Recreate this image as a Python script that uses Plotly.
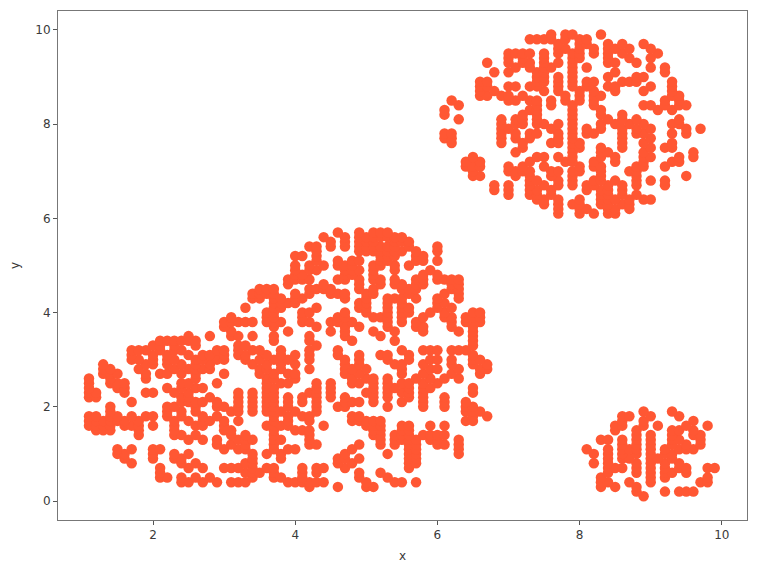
import plotly.graph_objects as go

# Each cluster: row heights, and the x values found on each row
small_y = [0.1, 0.2, 0.3, 0.4, 0.5, 0.6, 0.7, 0.8, 0.9, 1.0, 1.1, 1.2, 1.3, 1.4, 1.5, 1.6, 1.7, 1.8, 1.9]
small_x = [
    [8.9],
    [8.8, 9.2, 9.4, 9.5, 9.6],
    [8.3, 8.5, 8.8],
    [8.3, 8.4, 8.7, 9.0, 9.7, 9.8],
    [8.3, 9.0, 9.2, 9.8],
    [8.4, 8.8, 9.0, 9.2, 9.3, 9.5],
    [8.4, 8.5, 8.6, 8.8, 9.0, 9.2, 9.4, 9.5, 9.8, 9.9],
    [8.2, 8.4, 8.8, 9.0, 9.2, 9.4],
    [8.4, 8.6, 8.7, 9.0, 9.1, 9.3],
    [8.2, 8.4, 8.6, 8.8, 9.0, 9.2, 9.3],
    [8.1, 8.4, 8.6, 8.7, 8.8, 9.0, 9.2, 9.4, 9.5, 9.6],
    [8.6, 8.8, 9.0, 9.3, 9.5, 9.7],
    [8.3, 8.4, 8.6, 8.8, 9.0, 9.3, 9.4, 9.7],
    [8.8, 9.0, 9.3, 9.6, 9.7],
    [8.5, 8.8, 9.3, 9.4, 9.6],
    [8.5, 8.6, 8.9, 9.1, 9.5, 9.8],
    [8.6, 8.9, 9.6],
    [8.6, 8.7, 9.0, 9.4],
    [8.9, 9.3],
]

top_y = [6.1, 6.2, 6.3, 6.4, 6.5, 6.6, 6.7, 6.8, 6.9, 7.0, 7.1, 7.2, 7.3, 7.4, 7.5, 7.6, 7.7, 7.8, 7.9,
         8.0, 8.1, 8.2, 8.3, 8.4, 8.5, 8.6, 8.7, 8.8, 8.9, 9.0, 9.1, 9.2, 9.3, 9.4, 9.5, 9.6, 9.7, 9.8, 9.9]
top_x = [
    [7.7, 8.0, 8.2, 8.4, 8.5],
    [7.7, 8.0, 8.1, 8.4, 8.5, 8.7],
    [7.5, 7.7, 7.9, 8.0, 8.3, 8.4, 8.6, 8.7],
    [7.4, 7.5, 7.7, 8.0, 8.3, 8.4, 8.5, 8.7, 8.9, 9.0],
    [7.0, 7.3, 7.4, 7.6, 8.3, 8.4, 8.6, 8.8],
    [6.8, 7.0, 7.3, 7.4, 7.6, 8.1, 8.3, 8.4, 8.6],
    [6.8, 7.0, 7.3, 7.5, 7.7, 7.9, 8.1, 8.2, 8.4, 8.6, 8.8, 9.2],
    [7.3, 7.4, 7.7, 7.9, 8.2, 8.3, 8.5, 8.8, 9.0, 9.2],
    [6.5, 6.6, 7.1, 7.3, 7.6, 7.9, 8.3, 8.8, 9.5],
    [6.5, 7.0, 7.1, 7.2, 7.3, 7.6, 7.7, 7.9, 8.0, 8.3, 8.7, 8.8],
    [6.4, 6.5, 6.6, 7.0, 7.2, 7.5, 8.0, 8.2, 8.3, 8.8, 8.9, 9.2],
    [6.4, 6.6, 7.3, 7.8, 7.9, 8.2, 8.5, 8.9, 9.3, 9.4],
    [6.5, 7.4, 7.5, 7.7, 7.9, 8.3, 8.5, 8.9, 9.0, 9.4, 9.6],
    [7.1, 7.9, 8.3, 8.4, 8.9, 9.6],
    [7.2, 7.9, 8.0, 8.3, 8.6, 9.0, 9.2, 9.3],
    [6.2, 6.9, 7.2, 7.6, 7.7, 7.9, 8.0, 8.6, 8.9, 9.3],
    [6.1, 6.2, 6.9, 7.1, 7.3, 7.7, 7.9, 8.6, 9.0],
    [6.1, 6.2, 6.9, 7.1, 7.3, 7.4, 7.7, 7.9, 8.1, 8.2, 8.6, 8.8, 8.9, 9.3, 9.5],
    [6.9, 7.0, 7.6, 7.9, 8.1, 8.3, 8.6, 8.8, 9.0, 9.5, 9.7],
    [6.9, 7.1, 7.2, 7.4, 7.5, 7.7, 7.9, 8.3, 8.5, 8.7, 8.9, 9.3, 9.4],
    [6.3, 6.9, 7.1, 7.2, 7.4, 7.9, 8.4, 8.6, 8.8, 9.4],
    [6.1, 7.2, 7.4, 7.9, 8.3, 8.6],
    [6.1, 7.3, 7.4, 7.9, 8.3, 9.1, 9.3],
    [6.3, 7.4, 7.6, 7.9, 8.2, 8.9, 9.0, 9.2, 9.4, 9.5],
    [6.2, 7.0, 7.1, 7.3, 7.4, 7.6, 7.8, 8.0, 8.2, 9.2, 9.4],
    [6.6, 6.7, 6.9, 7.0, 7.2, 7.8, 8.0, 8.2, 8.3, 9.3, 9.4],
    [6.6, 6.8, 7.5, 7.7, 8.0, 8.2, 8.5, 8.9, 9.3],
    [6.6, 6.7, 7.0, 7.1, 7.3, 7.4, 7.7, 7.9, 8.1, 8.4, 8.5, 9.0, 9.3],
    [6.6, 6.7, 7.4, 7.5, 7.7, 7.9, 8.1, 8.2, 8.6, 8.7, 8.8, 9.3],
    [7.4, 7.5, 7.7, 7.9, 8.4, 8.8, 8.9],
    [6.8, 7.0, 7.4, 7.5, 7.9, 8.5, 9.2],
    [7.1, 7.3, 7.5, 7.6, 7.9, 8.1, 9.0, 9.2],
    [6.7, 7.0, 7.2, 7.3, 7.5, 7.7, 7.9, 8.4, 8.5, 8.8],
    [7.0, 7.2, 7.5, 7.9, 8.0, 8.4, 8.7, 9.0],
    [7.0, 7.1, 7.2, 7.3, 7.5, 7.7, 7.9, 8.0, 8.2, 8.4, 8.6, 9.1],
    [7.7, 7.8, 8.0, 8.2, 8.4, 8.5, 8.7, 9.0],
    [7.7, 8.0, 8.1, 8.4, 8.6, 8.9],
    [7.3, 7.4, 7.5, 7.6, 7.8, 8.0, 8.1],
    [7.6, 7.8, 7.9, 8.3],
]

main_y = [0.3, 0.4, 0.5, 0.6, 0.7, 0.8, 0.9, 1.0, 1.1, 1.2, 1.3, 1.4, 1.5, 1.6, 1.7, 1.8, 1.9, 2.0,
          2.1, 2.2, 2.3, 2.4, 2.5, 2.6, 2.7, 2.8, 2.9, 3.0, 3.1, 3.2, 3.3, 3.4, 3.5, 3.6, 3.7, 3.8,
          3.9, 4.0, 4.1, 4.2, 4.3, 4.4, 4.5, 4.6, 4.7, 4.8, 4.9, 5.0, 5.1, 5.2, 5.3, 5.4, 5.5, 5.6, 5.7]
main_x = [
    [4.2, 4.6, 5.0, 5.1],
    [2.4, 2.5, 2.7, 2.9, 3.1, 3.2, 3.3, 3.9, 4.0, 4.1, 4.2, 4.3, 4.4, 5.0, 5.4, 5.5, 5.7],
    [2.1, 2.2, 2.4, 2.6, 2.8, 3.4, 3.7, 3.8, 4.1, 4.9, 5.3],
    [2.1, 3.3, 3.4, 3.5, 3.7, 4.1, 4.3, 4.9, 5.2],
    [2.1, 2.5, 2.7, 3.0, 3.1, 3.2, 3.4, 3.6, 3.7, 4.1, 4.3, 4.4, 4.7, 5.6],
    [1.7, 2.4, 2.6, 3.3, 3.4, 4.6, 4.8, 5.6, 5.7],
    [1.6, 2.0, 2.3, 2.4, 3.4, 3.8, 4.6, 4.7, 4.9, 5.6, 5.7],
    [1.5, 1.6, 2.0, 2.3, 2.5, 3.4, 3.6, 3.8, 4.7, 5.3, 5.6, 5.7, 6.3],
    [1.5, 1.7, 2.0, 2.1, 3.0, 3.2, 3.3, 3.7, 3.9, 4.0, 4.8, 5.6, 5.7, 6.3],
    [2.9, 3.1, 3.3, 3.7, 4.2, 4.3, 4.9, 5.2, 5.4, 5.6, 5.7, 6.0, 6.1, 6.3],
    [2.5, 2.7, 2.9, 3.2, 3.3, 3.4, 3.7, 3.8, 4.2, 5.2, 5.4, 5.5, 5.6, 5.7, 5.9, 6.0, 6.3],
    [1.8, 2.3, 2.4, 2.6, 3.1, 3.3, 3.7, 4.2, 5.1, 5.2, 5.4, 5.5, 5.6, 5.8, 5.9, 6.0, 6.1],
    [1.2, 1.3, 1.4, 1.8, 2.3, 3.0, 3.1, 3.7, 4.0, 4.1, 4.2, 5.1, 5.2, 5.5, 5.6],
    [1.1, 1.2, 1.3, 1.4, 1.6, 1.7, 1.8, 2.0, 2.3, 2.6, 2.7, 3.0, 3.6, 3.7, 3.8, 3.9, 4.4, 5.0, 5.1, 5.2, 5.5, 5.6, 5.9, 6.1],
    [1.1, 1.2, 1.3, 1.4, 1.5, 1.6, 1.8, 2.3, 2.5, 2.7, 2.8, 3.0, 3.2, 3.7, 3.9, 4.2, 4.8, 4.9, 5.0, 5.1, 5.2, 6.4, 6.5],
    [1.1, 1.2, 1.4, 1.5, 1.7, 1.9, 2.0, 2.2, 2.4, 2.7, 2.9, 3.7, 3.9, 4.1, 4.2, 4.8, 4.9, 6.5, 6.7],
    [1.4, 2.2, 2.4, 2.6, 3.1, 3.2, 3.4, 3.6, 3.7, 3.8, 4.0, 4.3, 6.4, 6.5, 6.6],
    [1.4, 2.2, 2.3, 2.6, 2.9, 3.0, 3.2, 3.4, 3.6, 3.7, 3.9, 4.3, 4.6, 4.7, 5.3, 5.8, 6.1, 6.4, 6.5],
    [1.7, 2.4, 2.5, 2.6, 2.7, 2.9, 3.2, 3.4, 3.6, 3.7, 3.9, 4.1, 4.3, 4.7, 4.8, 4.9, 5.1, 5.5, 5.8, 6.1, 6.4],
    [1.1, 1.2, 2.4, 2.5, 2.8, 3.2, 3.4, 3.6, 3.7, 3.9, 4.1, 4.3, 4.5, 4.7, 5.1, 5.3, 5.6, 5.8, 6.1],
    [1.1, 1.2, 1.6, 1.9, 2.0, 2.3, 2.5, 3.2, 3.4, 3.6, 3.7, 4.2, 4.3, 4.5, 5.0, 5.1, 5.3, 5.5, 5.6, 5.8, 6.5],
    [1.1, 1.5, 1.6, 2.2, 2.4, 2.6, 2.7, 3.6, 3.7, 4.3, 4.5, 5.1, 5.3, 5.4, 5.6, 5.8, 5.9, 6.5],
    [1.1, 1.4, 1.5, 1.6, 2.4, 2.5, 2.9, 3.6, 3.8, 3.9, 4.3, 4.5, 4.8, 4.9, 5.1, 5.3, 5.5, 5.6, 5.8, 6.0],
    [1.1, 1.4, 1.9, 2.6, 3.6, 3.7, 4.0, 4.8, 5.0, 5.1, 5.3, 5.7, 5.9, 6.1, 6.3],
    [1.3, 1.4, 1.5, 1.9, 2.1, 2.2, 2.4, 2.6, 3.0, 3.5, 3.7, 3.9, 4.0, 4.7, 4.9, 5.5, 5.8, 6.2, 6.6],
    [1.3, 1.4, 1.8, 2.3, 2.5, 2.6, 2.7, 2.8, 3.5, 3.6, 3.8, 4.2, 4.7, 4.8, 5.0, 5.5, 5.9, 6.0, 6.3, 6.6, 6.7],
    [1.3, 1.9, 2.0, 2.2, 2.4, 2.6, 2.8, 3.4, 3.6, 3.8, 4.0, 4.7, 4.9, 5.4, 5.5, 5.8, 6.2, 6.5, 6.7],
    [1.7, 1.8, 2.0, 2.2, 2.3, 2.6, 2.7, 2.9, 3.0, 3.3, 3.5, 3.7, 3.9, 4.2, 4.7, 4.9, 5.3, 5.6, 5.9, 6.0, 6.2, 6.5, 6.6],
    [1.7, 2.0, 2.2, 2.5, 2.7, 2.8, 3.0, 3.2, 3.3, 3.6, 3.8, 4.0, 4.2, 4.6, 4.9, 5.2, 5.3, 5.6, 6.5],
    [1.7, 1.8, 1.9, 2.1, 2.3, 2.4, 2.9, 3.0, 3.2, 3.4, 3.5, 3.8, 4.2, 4.6, 5.5, 5.8, 5.9, 6.0, 6.2, 6.3, 6.4],
    [2.0, 2.1, 2.3, 2.6, 3.2, 3.3, 4.3, 6.5],
    [2.1, 2.2, 2.3, 2.4, 2.5, 2.6, 3.7, 4.2, 4.8, 5.4, 6.5],
    [2.5, 2.8, 3.1, 3.2, 3.4, 3.7, 4.2, 4.7, 5.2, 6.5],
    [3.1, 3.9, 4.5, 4.7, 5.1, 5.4, 5.8, 6.3, 6.5],
    [3.0, 3.7, 4.3, 4.7, 4.9, 5.3, 5.7, 5.8, 6.2, 6.5],
    [3.0, 3.1, 3.2, 3.3, 3.4, 3.6, 3.7, 3.8, 4.1, 4.2, 4.5, 4.6, 4.8, 5.3, 5.5, 5.7, 6.2, 6.4, 6.6],
    [3.1, 3.6, 3.7, 4.1, 4.6, 4.7, 5.1, 5.2, 5.3, 5.5, 5.8, 6.1, 6.2, 6.4, 6.5, 6.6],
    [3.6, 3.7, 4.1, 4.2, 4.7, 5.0, 5.3, 5.5, 5.6, 5.9, 6.1, 6.5, 6.6],
    [3.3, 3.7, 3.8, 4.3, 4.9, 5.0, 5.3, 5.5, 5.6, 6.0, 6.2],
    [3.7, 3.8, 3.9, 4.0, 4.9, 5.0, 5.3, 5.5, 6.0, 6.1],
    [3.4, 3.5, 3.7, 3.8, 4.0, 4.1, 4.7, 5.0, 5.3, 5.4, 5.5, 5.7, 6.0, 6.3],
    [3.4, 3.5, 3.6, 3.7, 4.0, 4.2, 4.5, 4.6, 4.7, 5.0, 5.1, 5.6, 6.1, 6.3],
    [3.5, 3.6, 3.7, 4.2, 4.3, 4.4, 4.5, 4.9, 5.1, 5.5, 5.6, 5.7, 6.2, 6.3],
    [3.9, 4.4, 4.9, 5.2, 5.4, 5.5, 5.7, 5.8, 6.2, 6.3],
    [3.9, 4.0, 4.1, 4.2, 4.6, 4.7, 4.9, 5.1, 5.2, 5.4, 5.7, 5.8, 6.0, 6.1, 6.2, 6.3],
    [4.0, 4.1, 4.7, 4.8, 5.1, 5.8, 6.0],
    [4.0, 4.2, 4.3, 4.7, 4.8, 4.9, 5.1, 5.4, 5.9],
    [4.0, 4.2, 4.4, 4.6, 4.7, 4.8, 5.1, 5.2, 5.4, 5.6],
    [4.3, 4.6, 4.8, 4.9, 5.2, 5.3, 5.7, 5.8, 6.0],
    [4.0, 4.1, 4.3, 5.2, 5.3, 5.4, 5.7, 5.8],
    [4.3, 4.9, 5.0, 5.1, 5.2, 5.3, 5.4, 5.5, 5.7, 6.0],
    [4.2, 4.3, 4.5, 4.7, 4.9, 5.0, 5.1, 5.2, 5.3, 5.4, 5.6, 6.0],
    [4.5, 4.7, 4.9, 5.0, 5.1, 5.4, 5.5, 5.6],
    [4.4, 4.7, 4.9, 5.0, 5.1, 5.2, 5.3, 5.4, 5.5],
    [4.6, 4.9, 5.1, 5.2, 5.3],
]

x_ticks = [2, 4, 6, 8, 10]
y_ticks = [0, 2, 4, 6, 8, 10]
x_title = "x"
y_title = "y"


def expand(rows_y, rows_x):
    xs, ys = [], []
    for yv, row in zip(rows_y, rows_x):
        for xv in row:
            xs.append(xv)
            ys.append(yv)
    return xs, ys


xs, ys = [], []
for rows_y, rows_x in ((small_y, small_x), (top_y, top_x), (main_y, main_x)):
    cx, cy = expand(rows_y, rows_x)
    xs += cx
    ys += cy

fig = go.Figure(go.Scatter(
    x=xs, y=ys, mode="markers",
    marker=dict(color="#ff5733", size=10.5, line=dict(width=0)),
))

axis_style = dict(
    showgrid=False, zeroline=False, showline=True, mirror=True, automargin=False,
    linecolor="#777777", linewidth=1,
    ticks="outside", ticklen=4, tickwidth=1, tickcolor="#555555",
    tickfont=dict(family="DejaVu Sans", size=12, color="#3a3a3a"),
    title_font=dict(family="DejaVu Sans", size=12, color="#3a3a3a"),
)
fig.update_xaxes(range=[0.664, 10.354], tickvals=x_ticks, title_text=x_title, title_standoff=10, **axis_style)
fig.update_yaxes(range=[-0.403, 10.40], tickvals=y_ticks, title_text=y_title, title_standoff=14, **axis_style)
fig.update_layout(
    width=750, height=567,
    margin=dict(l=50, r=11, t=3, b=55),
    paper_bgcolor="white", plot_bgcolor="white",
    showlegend=False,
)
fig.write_html("out.html")
